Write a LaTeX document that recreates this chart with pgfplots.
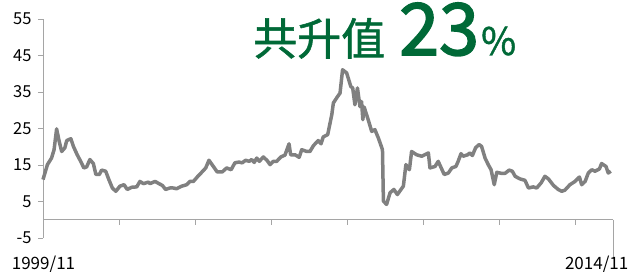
\documentclass[border=0pt]{standalone}
\usepackage{pgfplots}
\pgfplotsset{compat=1.18}
\usepackage{fontspec}
\setmainfont{Noto Sans CJK TC}
\newfontfamily\titlefont[FakeBold=1.2]{Noto Sans CJK TC}
\newfontfamily\numfont[FakeBold=2.2]{Noto Sans CJK TC}
\definecolor{tgreen}{RGB}{0,105,55}
\definecolor{lgray}{RGB}{128,128,128}
\definecolor{axgray}{RGB}{165,165,165}
\begin{document}
\begin{tikzpicture}
\begin{axis}[
  at={(0pt,0pt)}, anchor=south west,
  scale only axis, width=570pt, height=219pt,
  xmin=0, xmax=180, ymin=-5, ymax=55,
  axis x line=none, axis y line*=left,
  axis line style={axgray, line width=0.8pt},
  xtick=\empty,
  ytick={-5,5,15,25,35,45,55},
  yticklabels={-5,5,15,25,35,45,55},
  tick align=outside, major tick length=5pt,
  tick style={axgray, line width=0.8pt},
  yticklabel style={font=\fontsize{16.5}{18}\selectfont, text=black, xshift=-3pt},
  clip=false,
]
\draw[axgray, line width=0.8pt] (axis cs:0,0) -- (axis cs:180,0);
\pgfplotsinvokeforeach{24,48,72,96,120,144,168}{
  \draw[axgray, line width=0.8pt] (axis cs:#1,0) -- ++(0pt,-5pt);
}
\draw[axgray, line width=0.8pt] (axis cs:180,0) -- (axis cs:180,-10.5);
\addplot[lgray, line width=3.5pt, line join=round] coordinates {
(0,11.0) (1.4,15.1) (2.7,16.9) (3.5,19.2) (4.3,24.9) (5.1,21.5) (5.9,18.7)
(6.9,19.7) (7.5,21.7) (8.8,22.2) (9.6,20.1) (10.8,17.8) (11.9,16.0) (12.9,14.2)
(13.8,14.5) (14.8,16.5) (15.9,15.4) (16.7,12.4) (17.8,12.4) (18.5,13.6) (19.8,13.3)
(20.8,11.0) (21.9,8.7) (23.0,7.8) (24.3,9.2) (25.6,9.6) (26.6,8.3) (28.0,8.9)
(29.6,9.0) (30.6,10.5) (31.7,9.9) (33.3,10.3) (33.8,9.9) (35.4,10.5) (36.6,9.9)
(37.7,9.4) (38.7,8.3) (40.1,8.7) (41.1,8.7) (42.2,8.5) (43.8,9.2) (45.4,9.6)
(46.4,10.5) (47.5,10.5) (48.9,11.9) (49.9,12.8) (51.4,14.2) (52.4,16.3) (53.8,14.6)
(55.0,13.1) (56.6,13.1) (58.0,14.2) (59.4,13.7) (60.6,15.6) (61.9,15.8) (62.9,15.6)
(64.0,16.3) (65.1,16.0) (65.9,16.5) (66.7,15.7) (67.5,16.9) (68.3,16.0) (69.6,17.2)
(70.8,16.2) (71.7,15.1) (72.7,16.0) (73.8,16.0) (75.1,17.2) (76.4,17.7) (77.7,20.8)
(78.2,17.8) (79.6,17.8) (80.9,17.1) (81.7,19.2) (83.3,18.7) (84.3,18.7) (85.4,20.3)
(86.9,21.7) (87.8,20.8) (88.5,22.7) (89.9,23.3) (91.2,28.8) (91.7,32.0) (92.9,33.6)
(93.8,34.7) (94.6,41.1) (95.9,40.2) (97.2,36.5) (97.8,36.1) (98.5,31.5) (99.3,36.1)
(100.1,31.0) (100.6,32.4) (101.0,27.4) (101.4,30.9) (102.7,27.4) (103.8,24.2) (104.8,24.7)
(105.9,22.4) (107.2,19.2) (107.5,5.1) (108.5,4.2) (109.6,7.4) (110.8,8.3) (111.9,6.9)
(113.8,9.2) (114.6,15.1) (115.7,13.7) (116.4,18.7) (118.0,17.8) (119.6,17.4) (121.7,18.3)
(122.2,14.2) (123.8,14.6) (124.8,16.0) (126.7,12.4) (128.0,12.8) (129.1,14.2) (130.4,14.6)
(131.1,16.0) (132.0,18.1) (132.7,17.4) (134.1,17.8) (134.8,18.3) (135.6,17.6) (136.6,19.7)
(137.7,20.6) (138.5,20.1) (139.6,16.9) (140.6,15.1) (141.5,13.7) (142.5,9.6) (143.3,13.0)
(144.8,12.7) (145.9,12.7) (147.2,13.6) (148.2,13.3) (149.1,11.9) (150.6,11.2) (152.2,10.8)
(153.3,8.7) (154.8,9.0) (155.9,8.7) (157.3,10.1) (158.5,11.9) (159.6,11.2) (161.2,9.4)
(162.7,8.3) (163.8,7.8) (164.8,8.1) (166.4,9.6) (168.0,10.5) (169.4,11.7) (170.1,9.6)
(171.2,10.5) (172.2,12.8) (173.3,13.7) (174.3,13.3) (175.7,13.9) (176.4,15.4) (177.8,14.6)
(178.5,12.8) (179.3,13.3)
};
\end{axis}
\node[anchor=base, inner sep=0pt, font=\fontsize{17}{18}\selectfont] at (0.5pt,-32pt) {1999/11};
\node[anchor=base east, inner sep=0pt, font=\fontsize{17}{18}\selectfont] at (585.5pt,-32pt) {2014/11};
\node[anchor=base west, inner sep=0pt, text=tgreen] at (210pt,183pt)
  {\smash{\titlefont\fontsize{44}{44}\selectfont 共升值\hspace{14pt}\numfont\fontsize{72}{72}\selectfont 23\hspace{2pt}\titlefont\fontsize{38}{38}\selectfont\%}};
\pgfresetboundingbox
\path (-43pt,-34pt) rectangle (587pt,238pt);
\end{tikzpicture}
\end{document}
